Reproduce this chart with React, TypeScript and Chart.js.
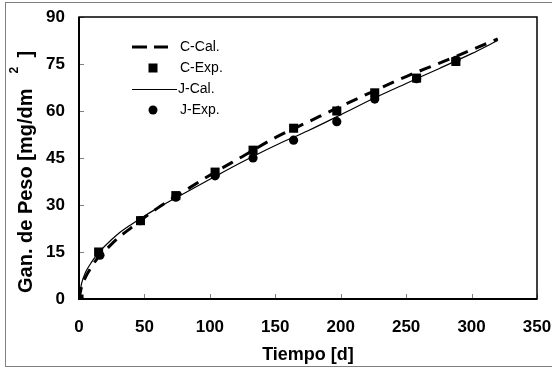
import React, { useEffect, useRef } from "react";
import { Chart, registerables } from "chart.js";
Chart.register(...registerables);

// Calculated curves
const calTimes = [0, 2, 5, 10, 15, 20, 30, 40, 50, 60, 75, 100, 125, 150, 175, 200, 225, 250, 275, 300, 320];
const cCal = [0, 4, 7, 10.5, 13.5, 15.5, 19.5, 22.8, 26, 29, 33, 39.5, 45.5, 51.5, 56.5, 61.5, 66.3, 71, 75.2, 79.5, 83];
const jCal = [0, 5, 8.5, 12, 14.8, 17, 20.8, 23.8, 26.5, 29, 32.5, 38.2, 43.8, 49, 53.7, 58.8, 64, 68.8, 73.5, 78.3, 82.5];

// Experimental points
const cExpTimes = [0, 15, 47, 74, 104, 133, 164, 197, 226, 258, 288];
const cExp = [0, 15, 25, 33, 40.5, 47.5, 54.5, 60, 65.8, 70.5, 75.8];
const jExpTimes = [0, 16, 47, 74, 104, 133, 164, 197, 226, 258, 288];
const jExp = [0, 14, 25, 32.5, 39.3, 45, 50.7, 56.6, 63.8, 70.3, 76.2];

const xTicks = [0, 50, 100, 150, 200, 250, 300, 350];
const yTicks = [0, 15, 30, 45, 60, 75, 90];

const legendLabels = ["C-Cal.", "C-Exp.", "J-Cal.", "J-Exp."];
const xTitle = "Tiempo [d]";
const yTitleMain = "Gan. de Peso [mg/dm";
const yTitleSup = "2";
const yTitleEnd = "]";

const FONT = "'Liberation Sans', Arial, sans-serif";

const pts = (xs: number[], ys: number[]) => xs.map((x, i) => ({ x, y: ys[i] }));

const noOverflow = (s: any) => {
  s.paddingLeft = 0;
  s.paddingRight = 0;
  s.paddingTop = 0;
  s.paddingBottom = 0;
};

const decorPlugin = {
  id: "decor",
  afterDraw(chart: any) {
    const { ctx, chartArea: a, scales } = chart;
    const xs = scales.x;
    const ys = scales.y;
    ctx.save();
    // inward ticks
    ctx.strokeStyle = "#808080";
    ctx.lineWidth = 1;
    ctx.beginPath();
    xTicks.forEach((t) => {
      const px = Math.round(xs.getPixelForValue(t)) + 0.5;
      ctx.moveTo(px, a.bottom);
      ctx.lineTo(px, a.bottom - 5);
    });
    yTicks.forEach((t) => {
      const py = Math.round(ys.getPixelForValue(t)) + 0.5;
      ctx.moveTo(a.left, py);
      ctx.lineTo(a.left + 5, py);
    });
    ctx.stroke();
    // plot frame
    ctx.strokeStyle = "#000";
    ctx.lineWidth = 1.5;
    ctx.strokeRect(a.left, a.top, a.right - a.left, a.bottom - a.top);
    ctx.lineWidth = 2;
    ctx.beginPath();
    ctx.moveTo(a.left, a.top);
    ctx.lineTo(a.left, a.bottom);
    ctx.lineTo(a.right, a.bottom);
    ctx.stroke();

    // x title
    ctx.fillStyle = "#000";
    ctx.font = `bold 18px ${FONT}`;
    ctx.textAlign = "center";
    ctx.textBaseline = "middle";
    ctx.fillText(xTitle, (a.left + a.right) / 2, 355);

    // y title (rotated, with superscript)
    ctx.save();
    ctx.translate(32, 293);
    ctx.rotate(-Math.PI / 2);
    ctx.textAlign = "left";
    ctx.textBaseline = "alphabetic";
    ctx.font = `bold 20px ${FONT}`;
    ctx.fillText(yTitleMain, 0, 0);
    const w = ctx.measureText(yTitleMain).width;
    ctx.font = `bold 12px ${FONT}`;
    ctx.fillText(yTitleSup, w + 15, -14);
    ctx.font = `bold 20px ${FONT}`;
    ctx.fillText(yTitleEnd, w + 31, 0);
    ctx.restore();

    // legend
    const rows = [47, 68, 89, 110];
    ctx.font = `14px ${FONT}`;
    ctx.textAlign = "left";
    ctx.textBaseline = "middle";
    ctx.fillStyle = "#000";
    // C-Cal dashed
    ctx.strokeStyle = "#000";
    ctx.lineWidth = 3;
    ctx.setLineDash([15, 7]);
    ctx.beginPath();
    ctx.moveTo(132, rows[0]);
    ctx.lineTo(168, rows[0]);
    ctx.stroke();
    ctx.setLineDash([]);
    ctx.fillText(legendLabels[0], 180, rows[0]);
    // C-Exp square
    ctx.fillRect(153 - 4.5, rows[1] - 4.5, 9, 9);
    ctx.fillText(legendLabels[1], 180, rows[1]);
    // J-Cal solid
    ctx.lineWidth = 1;
    ctx.beginPath();
    ctx.moveTo(132, rows[2] + 0.5);
    ctx.lineTo(177, rows[2] + 0.5);
    ctx.stroke();
    ctx.fillText(legendLabels[2], 178, rows[2]);
    // J-Exp circle
    ctx.beginPath();
    ctx.arc(153, rows[3], 4.5, 0, Math.PI * 2);
    ctx.fill();
    ctx.fillText(legendLabels[3], 180, rows[3]);
    ctx.restore();
  },
};

export default function App() {
  const ref = useRef<HTMLCanvasElement | null>(null);
  useEffect(() => {
    if (!ref.current) return;
    const chart = new Chart(ref.current, {
      type: "scatter",
      data: {
        datasets: [
          {
            label: legendLabels[1],
            data: pts(cExpTimes, cExp),
            showLine: false,
            pointStyle: "rect",
            pointRadius: 6.4,
            backgroundColor: "#000",
            borderColor: "#000",
            borderWidth: 0,
            order: 0,
          },
          {
            label: legendLabels[3],
            data: pts(jExpTimes, jExp),
            showLine: false,
            pointStyle: "circle",
            pointRadius: 4.6,
            backgroundColor: "#000",
            borderColor: "#000",
            borderWidth: 0,
            order: 1,
          },
          {
            label: legendLabels[2],
            data: pts(calTimes, jCal),
            showLine: true,
            pointRadius: 0,
            borderColor: "#000",
            borderWidth: 1.2,
            cubicInterpolationMode: "monotone",
            order: 2,
          },
          {
            label: legendLabels[0],
            data: pts(calTimes, cCal),
            showLine: true,
            pointRadius: 0,
            borderColor: "#000",
            borderWidth: 3,
            borderDash: [12, 8],
            cubicInterpolationMode: "monotone",
            order: 3,
          },
        ],
      },
      options: {
        animation: false,
        responsive: false,
        devicePixelRatio: 1,
        layout: { padding: { top: 17, right: 15, left: 0, bottom: 0 } },
        plugins: { legend: { display: false }, tooltip: { enabled: false } },
        scales: {
          x: {
            type: "linear",
            min: 0,
            max: 350,
            afterFit: (s: any) => { s.height = 71; noOverflow(s); },
            afterBuildTicks: (s: any) => { s.ticks = xTicks.map((v) => ({ value: v })); },
            ticks: { color: "#000", padding: 18, font: { family: FONT, size: 17, weight: "bold" } },
            grid: { display: false, drawTicks: false },
            border: { display: false },
          },
          y: {
            type: "linear",
            min: 0,
            max: 90,
            afterFit: (s: any) => { s.width = 79; noOverflow(s); },
            afterBuildTicks: (s: any) => { s.ticks = yTicks.map((v) => ({ value: v })); },
            ticks: { color: "#000", padding: 14, font: { family: FONT, size: 17, weight: "bold" } },
            grid: { display: false, drawTicks: false },
            border: { display: false },
          },
        },
      },
      plugins: [decorPlugin],
    } as any);
    return () => chart.destroy();
  }, []);
  return (
    <div style={{ position: "fixed", left: 0, top: 0, width: 552, height: 370, background: "#fff" }}>
      <div style={{ position: "absolute", left: 5, top: 2, width: 550, height: 365, border: "1px solid #808080", boxSizing: "border-box" }} />
      <canvas ref={ref} width={552} height={370} style={{ position: "absolute", left: 0, top: 0, width: 552, height: 370 }} />
    </div>
  );
}
